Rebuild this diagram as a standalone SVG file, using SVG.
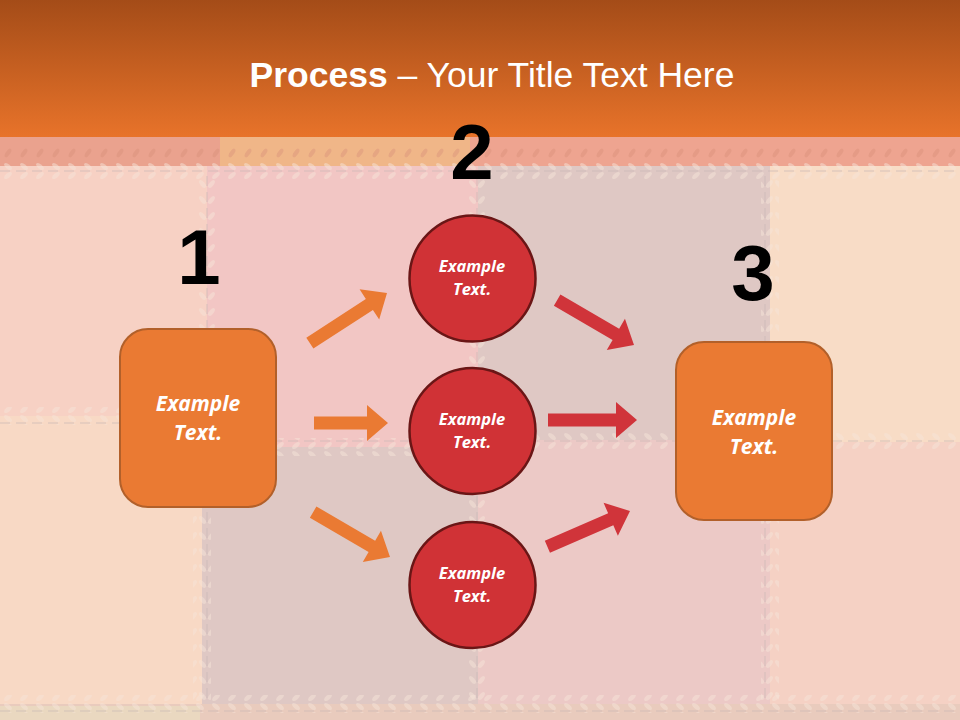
<svg xmlns="http://www.w3.org/2000/svg" width="960" height="720" viewBox="0 0 960 720">
  <defs>
    <linearGradient id="hdr" x1="0" y1="0" x2="0" y2="1">
      <stop offset="0" stop-color="#a44c18"/>
      <stop offset="1" stop-color="#e8732a"/>
    </linearGradient>
    <pattern id="leafV" width="18" height="16" patternUnits="userSpaceOnUse">
      <rect x="8" y="0" width="2" height="10" fill="#c9b6b3" opacity="0.35"/>
      <ellipse cx="4.5" cy="8" rx="2.2" ry="4.6" transform="rotate(-40 4.5 8)" fill="#f6e4d8" opacity="0.5"/>
      <ellipse cx="13.5" cy="8" rx="2.2" ry="4.6" transform="rotate(40 13.5 8)" fill="#f6e4d8" opacity="0.5"/>
    </pattern>
    <pattern id="leafH" width="16" height="18" patternUnits="userSpaceOnUse">
      <rect x="0" y="8" width="10" height="2" fill="#c9b6b3" opacity="0.35"/>
      <ellipse cx="8" cy="4.5" rx="4.6" ry="2.2" transform="rotate(40 8 4.5)" fill="#f6e4d8" opacity="0.5"/>
      <ellipse cx="8" cy="13.5" rx="4.6" ry="2.2" transform="rotate(-40 8 13.5)" fill="#f6e4d8" opacity="0.5"/>
    </pattern>
    <pattern id="leafS" width="16" height="18" patternUnits="userSpaceOnUse">
      <ellipse cx="8" cy="9" rx="5" ry="2.2" transform="rotate(-55 8 9)" fill="#d88e78" opacity="0.4"/>
    </pattern>
  </defs>
  <style>
    .num { font-family: "Liberation Sans", Arial, sans-serif; font-weight: bold; font-size: 78px; fill: #000; text-anchor: middle; }
    .lbl { font-family: "Open Sans", "Noto Sans", sans-serif; font-weight: bold; font-style: italic; fill: #fff; text-anchor: middle; }
    .box { fill: #ea7a33; stroke: #b2602a; stroke-width: 2; }
    .circ { fill: #d03236; stroke: #6a1616; stroke-width: 2.5; }
    .oa { fill: #ea7a33; }
    .ra { fill: #d0343a; }
  </style>

  <!-- background patchwork -->
  <g id="background">
    <rect x="0" y="0" width="960" height="720" fill="#f2c8c2"/>
    <rect x="0" y="166" width="207" height="250" fill="#f7d1c4"/>
    <rect x="207" y="166" width="271" height="281" fill="#f2c6c4"/>
    <rect x="478" y="166" width="292" height="274" fill="#dfc8c4"/>
    <rect x="770" y="166" width="190" height="276" fill="#f8dcc6"/>
    <rect x="0" y="416" width="202" height="290" fill="#f8d9c5"/>
    <rect x="202" y="447" width="276" height="259" fill="#dfc8c4"/>
    <rect x="478" y="440" width="292" height="266" fill="#ecc9c6"/>
    <rect x="770" y="442" width="190" height="264" fill="#f5d1c4"/>
    <rect x="0" y="704" width="960" height="16" fill="#e9cbbd"/>
    <rect x="0" y="706" width="200" height="14" fill="#ead8c0"/>
    <!-- upper strip -->
    <rect x="0" y="137" width="220" height="29" fill="#eaa28e"/>
    <rect x="220" y="137" width="250" height="29" fill="#f0b688"/>
    <rect x="470" y="137" width="490" height="29" fill="#eea490"/>
    <rect x="0" y="140" width="960" height="24" fill="url(#leafS)"/>
    <!-- seams -->
    <rect x="0" y="162" width="960" height="18" fill="url(#leafH)"/>
    <rect x="198" y="176" width="18" height="236" fill="url(#leafV)"/>
    <rect x="0" y="407" width="210" height="18" fill="url(#leafH)"/>
    <rect x="469" y="176" width="18" height="262" fill="url(#leafV)"/>
    <rect x="761" y="176" width="18" height="258" fill="url(#leafV)"/>
    <rect x="202" y="438" width="276" height="18" fill="url(#leafH)"/>
    <rect x="478" y="431" width="482" height="18" fill="url(#leafH)"/>
    <rect x="193" y="452" width="18" height="250" fill="url(#leafV)"/>
    <rect x="469" y="456" width="18" height="246" fill="url(#leafV)"/>
    <rect x="761" y="449" width="18" height="253" fill="url(#leafV)"/>
    <rect x="0" y="695" width="960" height="18" fill="url(#leafH)"/>
  </g>

  <!-- header -->
  <g id="header">
    <rect x="0" y="0" width="960" height="137" fill="url(#hdr)"/>
    <text x="492" y="87" text-anchor="middle" font-family="'Liberation Sans', Arial, sans-serif" font-size="35.5" fill="#fff"><tspan font-weight="bold">Process</tspan> – Your Title Text Here</text>
  </g>

  <!-- step numbers -->
  <g id="num1"><text class="num" x="199" y="284">1</text></g>
  <g id="num2"><text class="num" x="472" y="179">2</text></g>
  <g id="num3"><text class="num" x="753" y="300">3</text></g>

  <!-- connectors -->
  <g id="connectors">
    <path class="oa" d="M-92,-6.5 H-21 V-18 L0,0 L-21,18 V6.5 H-92 Z" transform="translate(387,293) rotate(-33)"/>
    <path class="oa" d="M-74,-6.5 H-21 V-18 L0,0 L-21,18 V6.5 H-74 Z" transform="translate(388,423)"/>
    <path class="oa" d="M-89,-6.5 H-21 V-18 L0,0 L-21,18 V6.5 H-89 Z" transform="translate(390,557) rotate(30.3)"/>
    <path class="ra" d="M-89,-6.5 H-21 V-18 L0,0 L-21,18 V6.5 H-89 Z" transform="translate(634,345) rotate(30.3)"/>
    <path class="ra" d="M-89,-6.5 H-21 V-18 L0,0 L-21,18 V6.5 H-89 Z" transform="translate(637,420)"/>
    <path class="ra" d="M-90,-6.5 H-21 V-18 L0,0 L-21,18 V6.5 H-90 Z" transform="translate(630,511) rotate(-23.4)"/>
  </g>

  <!-- nodes -->
  <g id="box1">
    <rect class="box" x="120" y="329" width="156" height="178" rx="28"/>
    <text class="lbl" font-size="21" x="198" y="411">Example</text>
    <text class="lbl" font-size="21" x="198" y="440">Text.</text>
  </g>
  <g id="circle1">
    <circle class="circ" cx="472.5" cy="278.5" r="63"/>
    <text class="lbl" font-size="16.5" x="472" y="272">Example</text>
    <text class="lbl" font-size="16.5" x="472" y="295">Text.</text>
  </g>
  <g id="circle2">
    <circle class="circ" cx="472.5" cy="431" r="63"/>
    <text class="lbl" font-size="16.5" x="472" y="425">Example</text>
    <text class="lbl" font-size="16.5" x="472" y="448">Text.</text>
  </g>
  <g id="circle3">
    <circle class="circ" cx="472.5" cy="585" r="63"/>
    <text class="lbl" font-size="16.5" x="472" y="579">Example</text>
    <text class="lbl" font-size="16.5" x="472" y="602">Text.</text>
  </g>
  <g id="box2">
    <rect class="box" x="676" y="342" width="156" height="178" rx="28"/>
    <text class="lbl" font-size="21" x="754" y="425">Example</text>
    <text class="lbl" font-size="21" x="754" y="454">Text.</text>
  </g>
</svg>
